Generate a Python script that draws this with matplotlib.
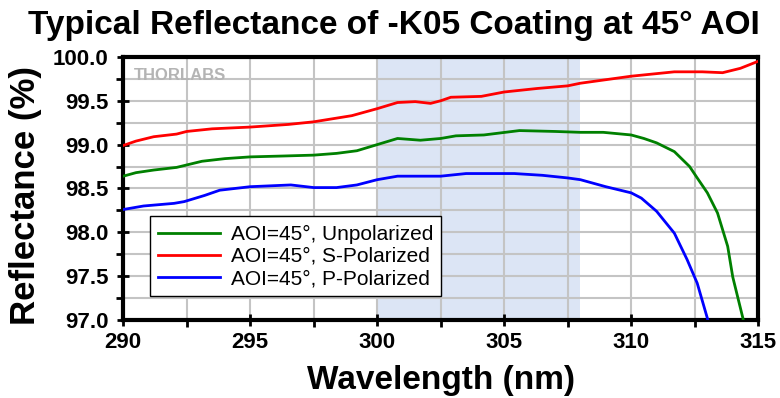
import matplotlib
matplotlib.use("Agg")
import matplotlib.pyplot as plt
from matplotlib.ticker import MultipleLocator

# Данные
wl_s = [290, 290.5, 291.2, 292.1, 292.5, 293.5, 295, 296.5, 297.5, 299.0, 300, 300.8,
        301.5, 302.1, 302.5, 302.9, 304.1, 305, 306.3, 307.5, 308, 309, 310, 311.7,
        312.8, 313.6, 314.3, 315]
r_s = [98.99, 99.04, 99.09, 99.12, 99.15, 99.18, 99.20, 99.23, 99.26, 99.33, 99.41, 99.48,
       99.49, 99.47, 99.50, 99.54, 99.55, 99.60, 99.64, 99.67, 99.70, 99.74, 99.78, 99.83,
       99.83, 99.82, 99.87, 99.95]

wl_u = [290, 290.5, 291.2, 292.1, 293.1, 294, 295, 296.3, 297.5, 298.4, 299.2, 300, 300.8,
        301.7, 302.5, 303.1, 304.2, 305.6, 307, 308, 308.9, 310, 310.5, 311, 311.7,
        312.3, 312.6, 313, 313.4, 313.8, 314.0, 314.4, 314.6]
r_u = [98.64, 98.68, 98.71, 98.74, 98.81, 98.84, 98.86, 98.87, 98.88, 98.90, 98.93, 99.00, 99.07,
       99.05, 99.07, 99.10, 99.11, 99.16, 99.15, 99.14, 99.14, 99.11, 99.07, 99.02, 98.92,
       98.75, 98.62, 98.45, 98.22, 97.84, 97.49, 97.02, 96.70]

wl_p = [290, 290.8, 292, 292.4, 293.2, 293.8, 295, 296.6, 297.5, 298.4, 299.2, 300, 300.8,
        301.7, 302.5, 303.5, 305.4, 306.5, 307.5, 308, 309, 310, 310.4, 311, 311.7,
        312.2, 312.6, 313, 313.2]
r_p = [98.26, 98.30, 98.33, 98.35, 98.42, 98.48, 98.52, 98.54, 98.51, 98.51, 98.54, 98.60, 98.64,
       98.64, 98.64, 98.67, 98.67, 98.65, 98.62, 98.60, 98.52, 98.45, 98.39, 98.24, 97.99,
       97.69, 97.42, 97.02, 96.75]

band = (300, 308)

plt.rcParams['font.family'] = ['Liberation Sans', 'DejaVu Sans']

fig = plt.figure(figsize=(7.8, 3.98), dpi=100)
ax = fig.add_axes([0.158, 0.196, 0.814, 0.661])

ax.axvspan(band[0], band[1], color="#dce5f5", zorder=0, lw=0)

ax.plot(wl_u, r_u, color="green", lw=2, label="AOI=45°, Unpolarized", zorder=3)
ax.plot(wl_s, r_s, color="red", lw=2, label="AOI=45°, S-Polarized", zorder=3)
ax.plot(wl_p, r_p, color="blue", lw=2, label="AOI=45°, P-Polarized", zorder=3)

ax.set_xlim(290, 315)
ax.set_ylim(97.0, 100.0)
ax.xaxis.set_major_locator(MultipleLocator(5))
ax.xaxis.set_minor_locator(MultipleLocator(2.5))
ax.yaxis.set_major_locator(MultipleLocator(0.5))
ax.yaxis.set_minor_locator(MultipleLocator(0.25))
ax.yaxis.set_major_formatter(lambda v, p: f"{v:.1f}")
ax.grid(which="both", color="#c4c4c4", lw=1.5, zorder=1)
ax.set_axisbelow(True)

for sp in ax.spines.values():
    sp.set_linewidth(3)
ax.tick_params(which="major", length=9, width=2, labelsize=16, direction="inout", pad=4)
ax.tick_params(axis="y", which="major", pad=6)
ax.tick_params(which="minor", length=5, width=2, direction="out")
for lbl in ax.get_xticklabels() + ax.get_yticklabels():
    lbl.set_fontweight("bold")

ax.set_xlabel("Wavelength (nm)", fontsize=24, fontweight="bold", labelpad=9)
ax.set_ylabel("Reflectance (%)", fontsize=25, fontweight="bold", labelpad=8)
ax.yaxis.label.set_y(0.475)
fig.text(0.505, 0.975, "Typical Reflectance of -K05 Coating at 45° AOI", fontsize=24,
         fontweight="bold", ha="center", va="top")

ax.text(0.016, 0.93, "THORLABS", transform=ax.transAxes, fontsize=12, fontweight="bold",
        color="#b4b4b4", va="center", zorder=2)

leg = ax.legend(loc="lower left", bbox_to_anchor=(0.025, 0.05), fontsize=15, frameon=True,
                fancybox=False, edgecolor="black", framealpha=1, handlelength=3,
                borderpad=0.4, labelspacing=0.15, handletextpad=0.5)
leg.get_frame().set_linewidth(1)
leg.set_zorder(5)

fig.savefig("out.png", dpi=100)
